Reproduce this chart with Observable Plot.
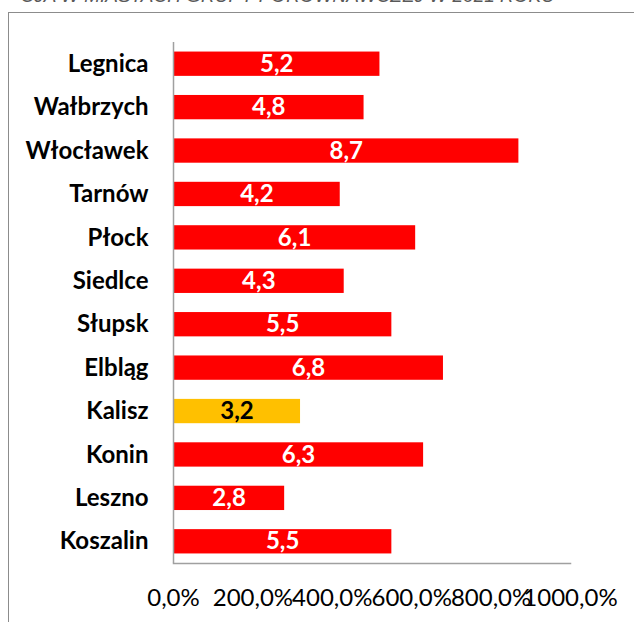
<!DOCTYPE html>
<html><head><meta charset="utf-8">
<script src="https://cdn.jsdelivr.net/npm/d3@7"></script>
<script src="https://cdn.jsdelivr.net/npm/@observablehq/plot@0.6"></script>
<style>
html,body{margin:0;padding:0;background:#fff;}
#wrap{position:relative;width:634px;height:622px;overflow:hidden;}
#title{position:absolute;right:79px;top:-14px;white-space:nowrap;font-family:"Liberation Sans",Arial,sans-serif;font-style:italic;font-size:19px;color:#595959;line-height:19px;}
#frame{position:absolute;left:8px;top:12px;width:700px;height:700px;border:1px solid #8c8c8c;}
#chart{position:absolute;left:0;top:0;}
</style></head>
<body><div id="wrap"><div id="title">CJA W MIASTACH GRUPY PORÓWNAWCZEJ W 2021 ROKU</div><div id="frame"></div><div id="chart"></div></div>
<script>
const cities = ["Legnica","Wałbrzych","Włocławek","Tarnów","Płock","Siedlce","Słupsk","Elbląg","Kalisz","Konin","Leszno","Koszalin"];
const values = [5.2,4.8,8.7,4.2,6.1,4.3,5.5,6.8,3.2,6.3,2.8,5.5];
const highlight = ["Kalisz"];
const xTicks = [0,2,4,6,8,10];

const data = cities.map((c,i)=>({city:c, value:values[i], hi: highlight.includes(c)}));
const font = "Lato, 'Open Sans', sans-serif";
const fmt = v => v.toFixed(1).replace(".", ",");

const chart = Plot.plot({
  width: 634, height: 622,
  marginLeft: 173, marginRight: 64, marginTop: 42, marginBottom: 59,
  style: {fontFamily: font, background: "transparent"},
  x: {domain: [0,10]},
  y: {domain: cities, paddingInner: 0.44, paddingOuter: 0.22, round: false},
  marks: [
    Plot.barX(data, {x: "value", y: "city", fill: d => d.hi ? "#FFC000" : "#FF0000"}),
    Plot.text(data, {x: d => d.value/2, y: "city", text: d => fmt(d.value), fill: d => d.hi ? "#000" : "#fff", fontWeight: "bold", fontSize: 24}),
    Plot.axisY({tickSize: 0, tickPadding: 25, fontSize: 24, fontWeight: "bold", fill: "#000", label: null}),
    Plot.axisX({ticks: xTicks, tickSize: 0, tickPadding: 25, fontSize: 24, fill: "#000", label: null, tickFormat: d => fmt(d*100) + "%"}),
    Plot.ruleX([0], {stroke: "#a0a0a0", strokeWidth: 1.5}),
    Plot.frame({anchor: "bottom", stroke: "#a0a0a0", strokeWidth: 1.5})
  ]
});
document.getElementById("chart").appendChild(chart);
</script></body></html>
